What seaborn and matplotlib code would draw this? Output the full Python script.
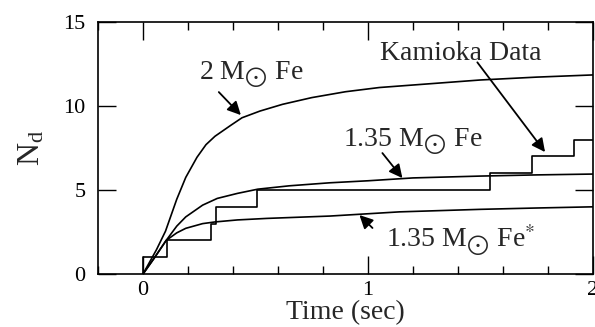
import matplotlib
matplotlib.use("Agg")
import matplotlib.pyplot as plt
from matplotlib.ticker import MultipleLocator
import seaborn as sns

# ---- data ----
t_2m = [0, 0.06, 0.10, 0.15, 0.19, 0.24, 0.28, 0.32, 0.39, 0.44, 0.52, 0.62, 0.75, 0.90, 1.05, 1.25, 1.50, 1.75, 2.0]
n_2m = [0, 1.45, 2.55, 4.45, 5.75, 6.95, 7.7, 8.2, 8.85, 9.3, 9.7, 10.1, 10.5, 10.85, 11.1, 11.3, 11.55, 11.72, 11.85]

t_135 = [0, 0.05, 0.103, 0.15, 0.19, 0.265, 0.33, 0.42, 0.51, 0.65, 0.83, 1.0, 1.2, 1.5, 1.75, 2.0]
n_135 = [0, 0.95, 2.0, 2.85, 3.4, 4.1, 4.5, 4.8, 5.05, 5.25, 5.43, 5.55, 5.72, 5.83, 5.9, 5.95]

t_135s = [0, 0.05, 0.103, 0.15, 0.19, 0.265, 0.32, 0.42, 0.55, 0.83, 1.14, 1.5, 1.75, 2.0]
n_135s = [0, 0.95, 2.0, 2.45, 2.72, 3.0, 3.1, 3.22, 3.31, 3.45, 3.7, 3.85, 3.93, 4.0]

kam_t = [0, 0, 0.107, 0.303, 0.324, 0.507, 1.541, 1.728, 1.915, 2.0]
kam_n = [0, 1, 2, 3, 4, 5, 6, 7, 8, 8]

x_ticks = [0, 1, 2]
y_ticks = [0, 5, 10, 15]

sns.set_theme(style="ticks")
plt.rcParams["font.family"] = ["Liberation Serif", "DejaVu Serif"]
plt.rcParams["mathtext.fontset"] = "stix"

fig = plt.figure(figsize=(5.95, 3.27), dpi=100)
ax = fig.add_axes([0.1647, 0.162, 0.8319, 0.7707])

lw = 1.2
sns.lineplot(x=t_2m, y=n_2m, ax=ax, color="black", lw=lw, sort=False, estimator=None)
sns.lineplot(x=t_135, y=n_135, ax=ax, color="black", lw=lw, sort=False, estimator=None)
sns.lineplot(x=t_135s, y=n_135s, ax=ax, color="black", lw=lw, sort=False, estimator=None)
sns.lineplot(x=kam_t, y=kam_n, ax=ax, color="black", lw=lw, sort=False, estimator=None,
             drawstyle="steps-post")

ax.set_xlim(-0.2, 2.0)
ax.set_ylim(0, 15)
ax.set_xticks(x_ticks)
ax.set_xticklabels([str(v) for v in x_ticks])
ax.set_yticks(y_ticks)
ax.xaxis.set_minor_locator(MultipleLocator(0.2))
ax.tick_params(which="both", direction="in", top=True, right=True, colors="black", width=1.0)
ax.tick_params(which="major", length=13, labelsize=16)
ax.tick_params(which="minor", length=5.5)
ax.tick_params(axis="y", pad=9)
ax.tick_params(axis="x", pad=5)
for s in ax.spines.values():
    s.set_linewidth(1.2)
    s.set_color("black")

ax.set_xlabel("Time (sec)", fontsize=20, labelpad=0)
ax.set_ylabel(r"N$_{\mathregular{d}}$", fontsize=23, labelpad=12)

fs = 20
ap = dict(arrowstyle="-|>", color="black", lw=1.3, mutation_scale=20, shrinkA=0, shrinkB=0)

ax.text(0.248, 11.85, r"2 M$_{\bigodot}$ Fe", fontsize=fs, va="center", ha="left")
ax.annotate("", xy=(0.435, 9.46), xytext=(0.337, 10.83), arrowprops=ap)

ax.text(1.055, 13.15, "Kamioka Data", fontsize=fs, va="center", ha="left")
ax.annotate("", xy=(1.787, 7.26), xytext=(1.486, 12.6), arrowprops=ap)

ax.text(0.887, 7.86, r"1.35 M$_{\bigodot}$ Fe", fontsize=fs, va="center", ha="left")
ax.annotate("", xy=(1.153, 5.71), xytext=(1.064, 7.2), arrowprops=ap)

ax.text(1.078, 2.08, r"1.35 M$_{\bigodot}$ Fe$^{*}$", fontsize=fs, va="center", ha="left")
ax.annotate("", xy=(0.962, 3.51), xytext=(1.02, 2.74), arrowprops=ap)

fig.savefig("out.png", dpi=100)
